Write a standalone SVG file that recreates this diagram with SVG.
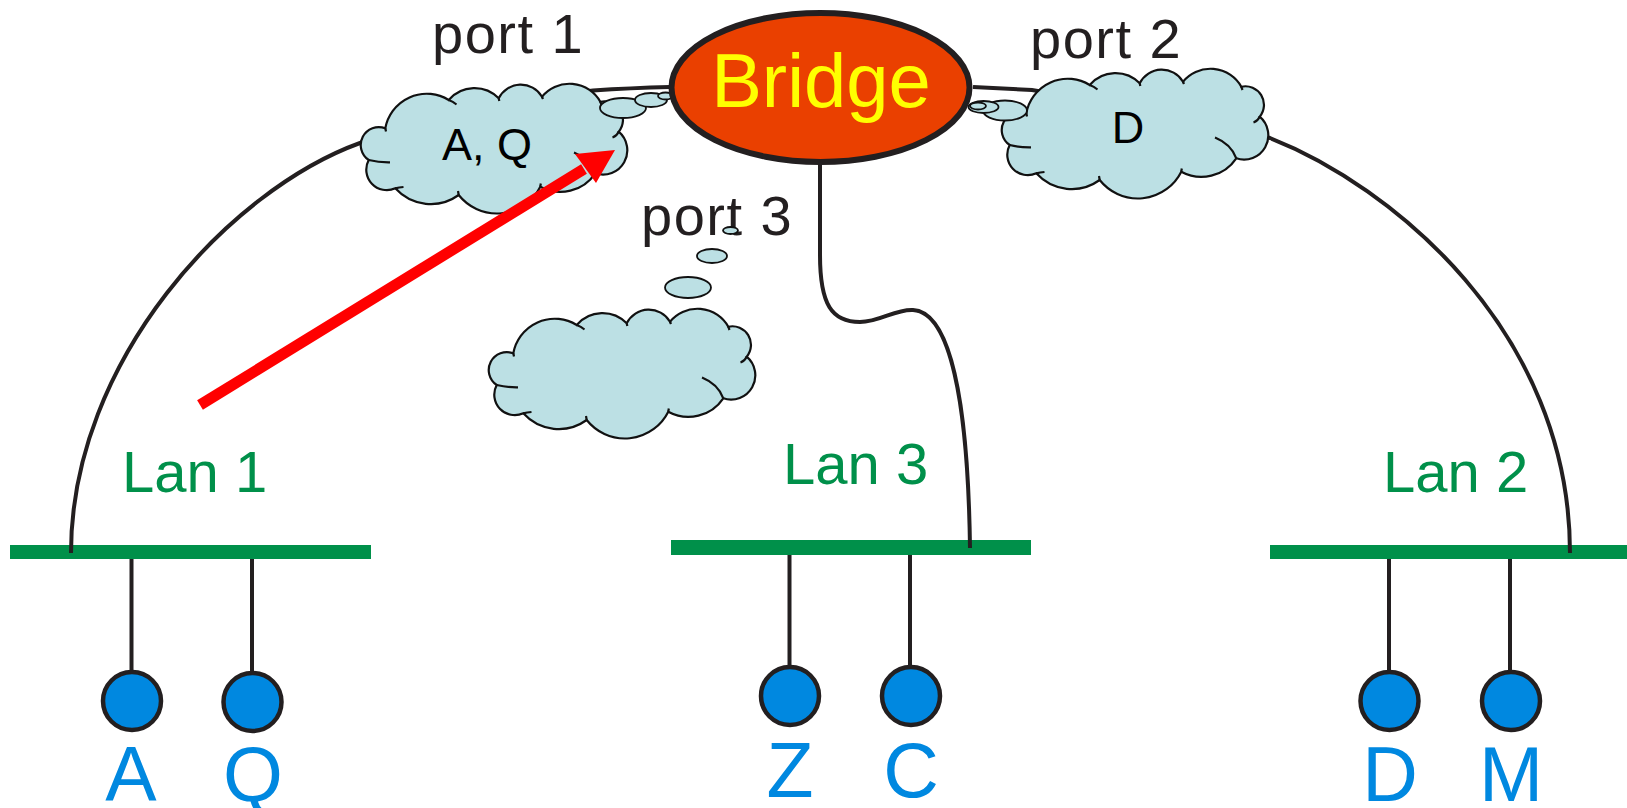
<svg xmlns="http://www.w3.org/2000/svg" xmlns:xlink="http://www.w3.org/1999/xlink" width="1627" height="808" viewBox="0 0 1627 808">
  <style>
    .wire { fill: none; stroke: #231f20; stroke-width: 4; stroke-linecap: butt; }
    .drop { stroke: #231f20; stroke-width: 4; }
    .bar { fill: #00904a; }
    .host { fill: #0088e0; stroke: #231f20; stroke-width: 4.5; }
    .cloud { fill: #bce0e4; stroke: #111; stroke-width: 2.2; }
    .curl { fill: none; stroke: #111; stroke-width: 2.2; }
    .bubble { fill: #bce0e4; stroke: #111; stroke-width: 1.8; }
    .port { font-family: "Liberation Sans", Arial, sans-serif; font-size: 56px; letter-spacing: 1.5px; fill: #231f20; }
    .lan { font-family: "Liberation Sans", Arial, sans-serif; font-size: 58px; fill: #00904a; }
    .name { font-family: "Liberation Sans", Arial, sans-serif; font-size: 77px; fill: #0088e0; text-anchor: middle; }
    .table { font-family: "Liberation Sans", Arial, sans-serif; font-size: 45px; fill: #000; text-anchor: middle; }
  </style>
  <defs>
    <!-- forwarding-table cloud, drawn in a local 273 x 128 box -->
    <g id="cloud">
      <path class="cloud" d="M26.3,43.3 A42,42 0 0 1 89.7,15 A34,34 0 0 1 139.7,13.3 A24.7,24.7 0 0 1 183,11.7 A35.5,35.5 0 0 1 241.3,16.7 A18.6,18.6 0 0 1 259.7,46.7 A24.3,24.3 0 0 1 236.3,88.3 A42,42 0 0 1 181.3,101.7 A48.6,48.6 0 0 1 99.7,110 A47.7,47.7 0 0 1 36.3,103.3 A20.5,20.5 0 0 1 9.7,75 A18,18 0 0 1 26.3,43.3 Z"/>
      <path class="curl" d="M9.7,75 Q20,77.5 31,77.3 M36.3,103.3 Q40,102.5 44.5,102 M215,67.5 Q231,74 236.3,88.3 M259.7,46.7 Q258,51 253.5,52.5 M89.7,15 Q94,16.5 97.5,19.5 M139.7,13.3 L140.3,16 M183,11.7 L184,14 M241.3,16.7 L242.5,20 M99.7,110 L99,106 M181.3,101.7 L181.8,98.5 M26.3,43.3 L27,46.5"/>
    </g>
  </defs>

  <!-- LAN segments -->
  <g id="lan1">
    <rect class="bar" x="10" y="545" width="361" height="14"/>
    <text class="lan" x="122" y="492">Lan 1</text>
  </g>
  <g id="lan3">
    <rect class="bar" x="671" y="540" width="360" height="15"/>
    <text class="lan" x="783" y="484">Lan 3</text>
  </g>
  <g id="lan2">
    <rect class="bar" x="1270" y="545" width="357" height="14"/>
    <text class="lan" x="1383" y="492">Lan 2</text>
  </g>

  <!-- bridge-to-LAN links and host drops -->
  <g id="connectors">
    <path class="wire" d="M670,87 Q630,88 593,90.5 L520,100 L360,143 C230,190 71,360 71,553"/>
    <path class="wire" d="M973,87 L1032,90 L1150,110 L1270,138 C1390,185 1570,330 1570,553"/>
    <path class="wire" d="M820,160 L820,255 C820,305 832,322 860,322 C880,322 895,309 913,310 C950,312 968,400 970,548"/>
    <line class="drop" x1="131.5" y1="559" x2="131.5" y2="672"/>
    <line class="drop" x1="252" y1="559" x2="252" y2="672"/>
    <line class="drop" x1="789.5" y1="555" x2="789.5" y2="666"/>
    <line class="drop" x1="910" y1="555" x2="910" y2="666"/>
    <line class="drop" x1="1389" y1="559" x2="1389" y2="671"/>
    <line class="drop" x1="1510" y1="559" x2="1510" y2="671"/>
  </g>

  <!-- port 1 table -->
  <g id="port1">
    <use xlink:href="#cloud" href="#cloud" transform="translate(359,85)"/>
    <ellipse class="bubble" cx="623" cy="108" rx="23" ry="10"/>
    <ellipse class="bubble" cx="651" cy="100" rx="16" ry="7"/>
    <ellipse class="bubble" cx="665.5" cy="96" rx="7.5" ry="3.5"/>
    <text class="port" x="432" y="53">port 1</text>
    <text class="table" x="487" y="160">A, Q</text>
  </g>

  <!-- port 2 table -->
  <g id="port2">
    <use xlink:href="#cloud" href="#cloud" transform="translate(1000,70)"/>
    <ellipse class="bubble" cx="1005" cy="110.5" rx="22" ry="10"/>
    <ellipse class="bubble" cx="983.5" cy="107" rx="15" ry="6"/>
    <ellipse class="bubble" cx="978" cy="106" rx="8" ry="3.5"/>
    <text class="port" x="1030" y="58">port 2</text>
    <text class="table" x="1128" y="143">D</text>
  </g>

  <!-- port 3 table (empty) -->
  <g id="port3">
    <use xlink:href="#cloud" href="#cloud" transform="translate(487,310)"/>
    <text class="port" x="641" y="235">port 3</text>
    <ellipse class="bubble" cx="688" cy="287.5" rx="23" ry="10.5"/>
    <ellipse class="bubble" cx="712" cy="256" rx="15" ry="7"/>
    <ellipse class="bubble" cx="730.5" cy="230.5" rx="7.5" ry="3.5"/>
  </g>

  <!-- bridge -->
  <g id="bridge">
    <ellipse cx="820.5" cy="87.5" rx="149" ry="74.5" fill="#ea4000" stroke="#231f20" stroke-width="6"/>
    <text x="821" y="107" font-family="'Liberation Sans', Arial, sans-serif" font-size="76" fill="#ffff00" text-anchor="middle">Bridge</text>
  </g>

  <!-- hosts -->
  <g id="host-A">
    <circle class="host" cx="132" cy="701" r="29"/>
    <text class="name" x="131" y="801">A</text>
  </g>
  <g id="host-Q">
    <circle class="host" cx="252.5" cy="702" r="29"/>
    <text class="name" x="253" y="801">Q</text>
  </g>
  <g id="host-Z">
    <circle class="host" cx="790" cy="696" r="29"/>
    <text class="name" x="790" y="797">Z</text>
  </g>
  <g id="host-C">
    <circle class="host" cx="911" cy="696" r="29"/>
    <text class="name" x="911" y="797">C</text>
  </g>
  <g id="host-D">
    <circle class="host" cx="1389.5" cy="701" r="29"/>
    <text class="name" x="1390" y="801">D</text>
  </g>
  <g id="host-M">
    <circle class="host" cx="1511" cy="701" r="29"/>
    <text class="name" x="1511" y="801">M</text>
  </g>

  <!-- learning arrow: frame from Lan 1 recorded at port 1 -->
  <g id="learn-arrow">
    <line x1="200" y1="405" x2="584" y2="169" stroke="#ff0000" stroke-width="11"/>
    <polygon points="615,150 596,183 575,154" fill="#ff0000"/>
  </g>
</svg>
